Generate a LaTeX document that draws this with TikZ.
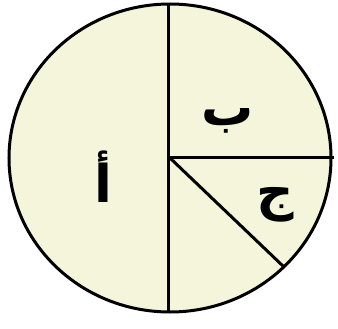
\documentclass[tikz,border=0pt]{standalone}
\usepackage{fontspec}
\newfontfamily\arabicfont[Script=Arabic]{DejaVu Sans}
\TeXXeTstate=1
\usetikzlibrary{calc}
\definecolor{discfill}{RGB}{245,245,220}

\begin{document}
\begin{tikzpicture}[
  x=1pt, y=-1pt,
  rim/.style={draw=black, line width=3pt, fill=discfill},
  cut/.style={draw=black, line width=3pt},
  lbl/.style={font=\arabicfont\bfseries\fontsize{52}{60}\selectfont, inner sep=0pt}
]
  \useasboundingbox (0,0) rectangle (338,329);
  \coordinate (o) at (170,158);

  \draw[rim] (o) ellipse [x radius=161, y radius=154];
  \draw[cut] ($(o)+(-2,-154)$) -- ($(o)+(-2,154)$);
  \draw[cut] (o) -- ($(o)+(164,0)$);
  \draw[cut] (o) -- ($(o)+(114,109)$);

  \node[lbl] (alef) at (103,177) {\beginR أ\endR};
  \node[lbl] (beh) at (228,121) {\beginR ب\endR};
  \node[lbl] (jeem) at (275,205) {\beginR ج\endR};
\end{tikzpicture}
\end{document}
